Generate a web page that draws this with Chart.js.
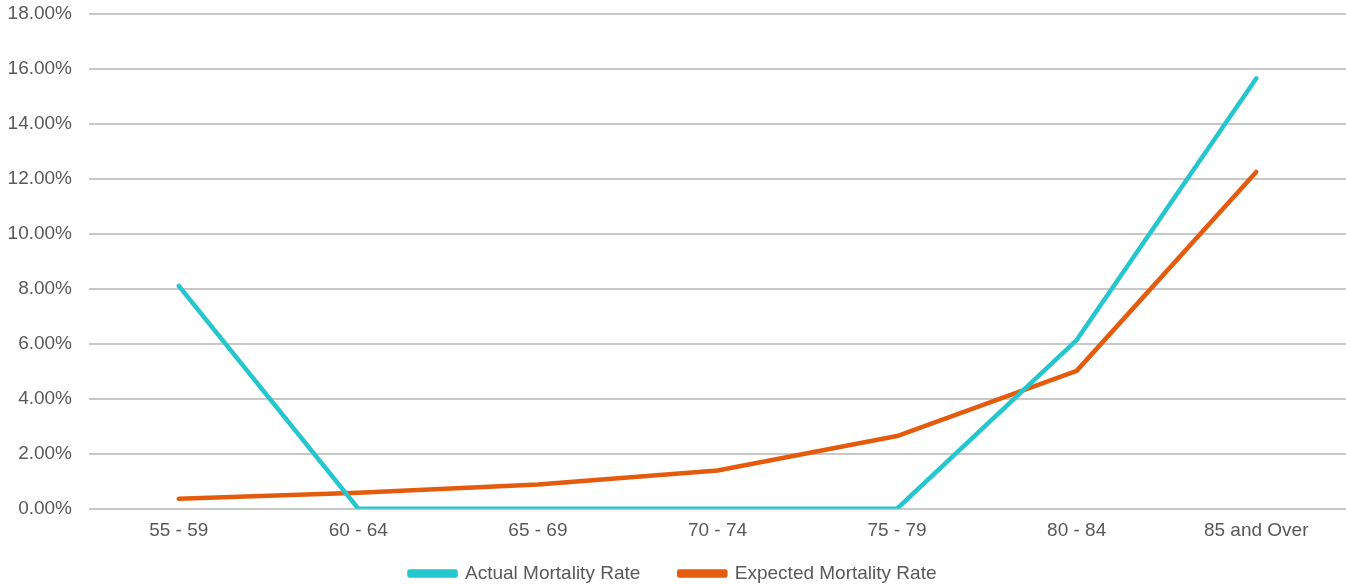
<!DOCTYPE html>
<html>
<head>
<meta charset="utf-8">
<script src="https://cdn.jsdelivr.net/npm/chart.js@4/dist/chart.umd.min.js"></script>
<style>
  html, body { margin: 0; padding: 0; background: #fff; }
  #wrap { width: 1346px; height: 585px; position: relative; }
</style>
</head>
<body>
<div id="wrap"><canvas id="mortalityChart"></canvas></div>
<script>
const ageBands = ['55 - 59', '60 - 64', '65 - 69', '70 - 74', '75 - 79', '80 - 84', '85 and Over'];
const actualRate = [8.1, 0, 0, 0, 0, 6.13, 15.64];
const expectedRate = [0.36, 0.58, 0.88, 1.39, 2.64, 5.01, 12.24];

const textColor = '#595959';
const fontFamily = '"Liberation Sans", Arial, sans-serif';
const fontSize = 19;

// legend keeps the wide gap between items but sits low, close to the x labels
const legendPlacement = {
  id: 'legendPlacement',
  beforeInit(chart) {
    const fit = chart.legend.fit;
    chart.legend.fit = function () {
      fit.bind(chart.legend)();
      this.height = 31.5;
    };
  },
  afterLayout(chart) {
    chart.legend.top = 525;
    chart.legend.bottom = 585;
  }
};

const ctx = document.getElementById('mortalityChart').getContext('2d');
const chart = new Chart(ctx, {
  type: 'line',
  data: {
    labels: ageBands,
    datasets: [{
      label: 'Actual Mortality Rate',
      data: actualRate,
      borderColor: '#25C6CE',
      backgroundColor: '#25C6CE',
      borderWidth: 4.5,
      borderCapStyle: 'round',
      borderJoinStyle: 'round',
      pointRadius: 0,
      tension: 0
    }, {
      label: 'Expected Mortality Rate',
      data: expectedRate,
      borderColor: '#E55B0E',
      backgroundColor: '#E55B0E',
      borderWidth: 4.5,
      borderCapStyle: 'round',
      borderJoinStyle: 'round',
      pointRadius: 0,
      tension: 0
    }]
  },
  plugins: [legendPlacement],
  options: {
    responsive: true,
    maintainAspectRatio: false,
    animation: false,
    layout: { padding: 0 },
    plugins: {
      tooltip: { enabled: false },
      legend: {
        position: 'bottom',
        labels: {
          color: textColor,
          font: { family: fontFamily, size: fontSize },
          boxWidth: 46,
          boxHeight: 4,
          padding: 39
        }
      }
    },
    scales: {
      x: {
        offset: true,
        grid: { display: false, drawTicks: false },
        border: { display: false },
        ticks: {
          color: textColor,
          font: { family: fontFamily, size: fontSize },
          padding: 11,
          maxRotation: 0
        },
        afterFit(scale) {
          scale.paddingLeft = 0;
          scale.paddingRight = 0;
        }
      },
      y: {
        min: 0,
        max: 18,
        grid: { color: '#c8c8c8', lineWidth: 2, drawTicks: false },
        border: { display: false },
        ticks: {
          stepSize: 2,
          color: textColor,
          font: { family: fontFamily, size: fontSize },
          padding: 17,
          callback: v => v.toFixed(2) + '%'
        },
        afterFit(scale) {
          scale.width = 89;
          scale.paddingTop = 13.5;
          scale.paddingBottom = 0;
        }
      }
    }
  }
});
</script>
</body>
</html>
